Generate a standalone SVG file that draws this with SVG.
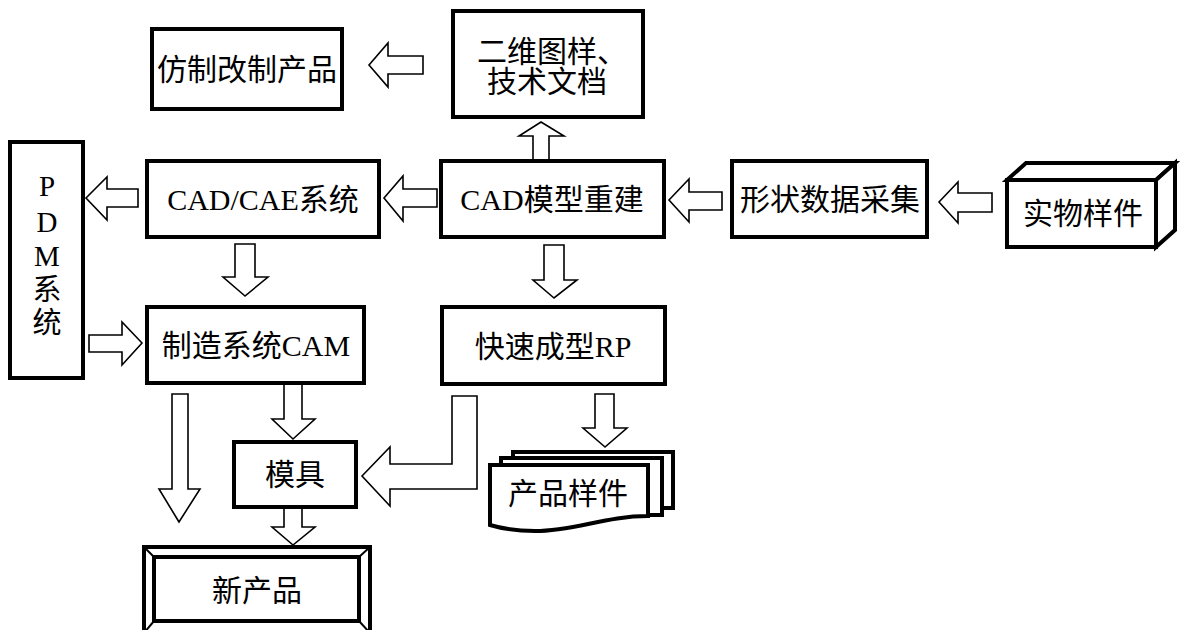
<svg xmlns="http://www.w3.org/2000/svg" width="1190" height="630" viewBox="0 0 1190 630">
<style>
.box{fill:#fff;stroke:#000;stroke-width:4}
.arr{fill:#fff;stroke:#000;stroke-width:1.6;stroke-linejoin:miter}
.t{font-family:"Liberation Serif","Noto Sans CJK SC",serif;font-size:30px;fill:#000;text-anchor:middle}
.thin{fill:none;stroke:#000;stroke-width:2}
</style>
<rect x="0" y="0" width="1190" height="630" fill="#fff"/>
<g id="connectors">
<polygon class="arr" points="369,65 388,43 388,56 423,56 423,74 388,74 388,87"/>
<polygon class="arr" points="541,122 564,136 549,136 549,160 533,160 533,136 519,136"/>
<polygon class="arr" points="86,198 107,177 107,189 138,189 138,207 107,207 107,220"/>
<polygon class="arr" points="384,198 403,176 403,189 437,189 437,207 403,207 403,221"/>
<polygon class="arr" points="669,200 689,179 689,192 722,192 722,210 689,210 689,222"/>
<polygon class="arr" points="939,202 958,182 958,193 992,193 992,212 958,212 958,223"/>
<polygon class="arr" points="245,296 223,277 235,277 235,244 255,244 255,277 268,277"/>
<polygon class="arr" points="554,298 533,280 544,280 544,245 564,245 564,280 577,280"/>
<polygon class="arr" points="142,343 122,322 122,335 89,335 89,352 122,352 122,365"/>
<polygon class="arr" points="179,522 159,489 172,489 172,394 188,394 188,489 200,489"/>
<polygon class="arr" points="293,439 272,419 284,419 284,384 302,384 302,419 315,419"/>
<polygon class="arr" points="362,476 390,447 390,464 452,464 452,396 477,396 477,489 390,489 390,506"/>
<polygon class="arr" points="605,447 583,428 595,428 595,394 614,394 614,428 627,428"/>
<polygon class="arr" points="293,545 272,527 284,527 284,508 302,508 302,527 315,527"/>
</g>
<g id="node-fangzhi">
<rect class="box" x="152" y="29" width="190" height="80"/>
<text class="t" x="247" y="80">仿制改制产品</text>
</g>
<g id="node-erwei">
<rect class="box" x="453" y="11" width="190" height="106"/>
<text class="t" x="477" y="62" style="text-anchor:start">二维图样、</text>
<text class="t" x="547" y="92">技术文档</text>
</g>
<g id="node-pdm">
<rect class="box" x="10" y="142" width="73" height="236"/>
<text class="t" x="47" y="196" style="font-size:29px">P</text>
<text class="t" x="47" y="232" style="font-size:29px">D</text>
<text class="t" x="47" y="266" style="font-size:29px">M</text>
<text class="t" x="47" y="300" style="font-size:29px">系</text>
<text class="t" x="47" y="333" style="font-size:29px">统</text>
</g>
<g id="node-cadcae">
<rect class="box" x="147" y="161" width="232" height="76"/>
<text class="t" x="263" y="210">CAD/CAE系统</text>
</g>
<g id="node-cadmodel">
<rect class="box" x="441" y="161" width="223" height="76"/>
<text class="t" x="552" y="210">CAD模型重建</text>
</g>
<g id="node-xingzhuang">
<rect class="box" x="732" y="161" width="195" height="76"/>
<text class="t" x="830" y="210">形状数据采集</text>
</g>
<g id="node-shiwu">
<polygon class="box" points="1007,180 1026,163 1175,163 1156,180"/>
<polygon class="box" points="1156,180 1175,163 1175,230 1156,247"/>
<rect class="box" x="1007" y="180" width="149" height="67"/>
<text class="t" x="1083" y="224">实物样件</text>
</g>
<g id="node-cam">
<rect class="box" x="147" y="307" width="217" height="76"/>
<text class="t" x="256" y="356">制造系统CAM</text>
</g>
<g id="node-rp">
<rect class="box" x="442" y="307" width="223" height="77"/>
<text class="t" x="553" y="357">快速成型RP</text>
</g>
<g id="node-muju">
<rect class="box" x="234" y="442" width="122" height="65"/>
<text class="t" x="295" y="485">模具</text>
</g>
<g id="node-yangjian">
<rect class="box" x="513" y="452" width="160" height="56"/>
<rect class="box" x="501" y="458" width="161" height="57"/>
<path class="box" d="M490,465 H648 V516 C605,516 575,531 535,531 C512,531 500,528 490,525 Z"/>
<text class="t" x="568" y="504">产品样件</text>
</g>
<g id="node-xinchanpin">
<rect class="box" x="144" y="547" width="226" height="86"/>
<rect class="box" x="154" y="557" width="205" height="64"/>
<line class="thin" x1="144" y1="547" x2="154" y2="557"/>
<line class="thin" x1="370" y1="547" x2="359" y2="557"/>
<line class="thin" x1="144" y1="633" x2="154" y2="621"/>
<line class="thin" x1="370" y1="633" x2="359" y2="621"/>
<text class="t" x="257" y="601">新产品</text>
</g>
</svg>
